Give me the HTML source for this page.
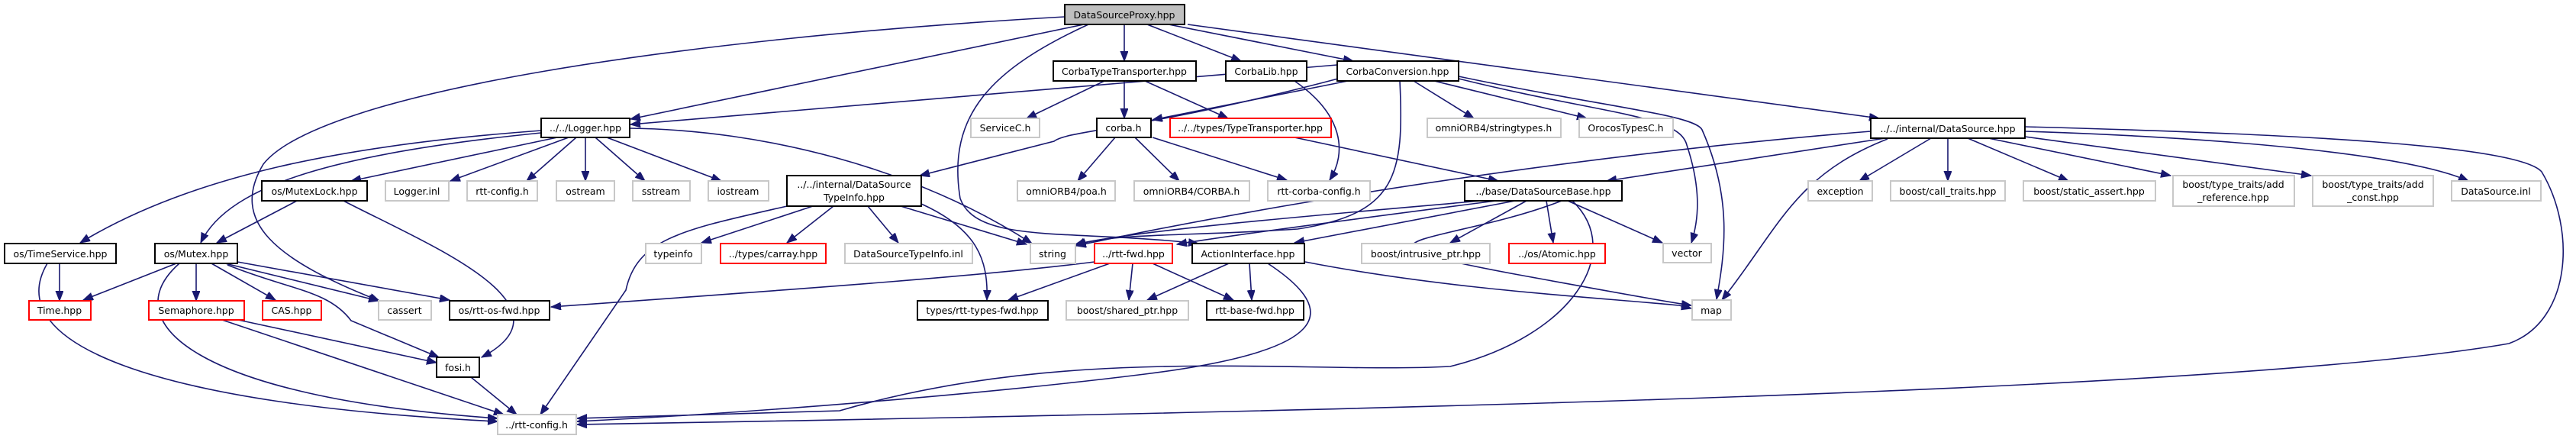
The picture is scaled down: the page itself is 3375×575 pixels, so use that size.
<!DOCTYPE html>
<html><head><meta charset="utf-8"><style>
html,body{margin:0;padding:0;background:#fff;width:3375px;height:575px;overflow:hidden}
svg{display:block}
text{font-family:"DejaVu Sans","Liberation Sans",sans-serif;font-size:12.5px;fill:#000;text-anchor:middle}
.e{fill:none;stroke:#191970;stroke-width:1.6;marker-end:url(#a)}
.b{fill:#fff;stroke:#000;stroke-width:2}
.g{fill:#fff;stroke:#c8c8c8;stroke-width:2}
.r{fill:#fff;stroke:#ff0000;stroke-width:2}
</style></head><body>
<svg width="3375" height="575" viewBox="0 0 3375 575" xmlns="http://www.w3.org/2000/svg">
<defs><marker id="a" markerUnits="userSpaceOnUse" markerWidth="14" markerHeight="12" refX="13" refY="5" orient="auto"><path d="M0,0 L13,5 L0,10 z" fill="#191970" stroke="#191970"/></marker></defs>
<g>
<!-- DataSourceProxy edges -->
<path class="e" d="M1420,32 L826,156"/>
<path class="e" d="M1473,32 L1473,80"/>
<path class="e" d="M1503,32 L1626,80"/>
<path class="e" d="M1531,32 L1773,80"/>
<path class="e" d="M1556,32 L2462,155"/>
<path class="e" d="M1395,22 C900,50 420,120 345,215 C300,290 360,340 497,394"/>
<path class="e" d="M1426,32 C1300,90 1240,150 1258,260 C1280,320 1400,300 1570,319"/>
<!-- Logger -->
<path class="e" d="M709,171 C450,190 250,230 105,318"/>
<path class="e" d="M709,174 C450,200 300,240 263,318"/>
<path class="e" d="M730,180 L460,237"/>
<path class="e" d="M745,180 L590,237"/>
<path class="e" d="M755,180 L690,237"/>
<path class="e" d="M767,180 L767,237"/>
<path class="e" d="M780,180 L845,237"/>
<path class="e" d="M795,180 L945,237"/>
<path class="e" d="M825,168 C1000,170 1200,220 1352,319"/>
<!-- MutexLock -->
<path class="e" d="M389,263 L284,318"/>
<path class="e" d="M450,263 C560,320 760,400 631,468"/>
<!-- TimeService -->
<path class="e" d="M78,345 L78,394"/>
<path class="e" d="M62,345 C0,450 200,530 652,552"/>
<!-- Mutex -->
<path class="e" d="M231,345 L109,393"/>
<path class="e" d="M257,345 L257,394"/>
<path class="e" d="M277,345 L361,393"/>
<path class="e" d="M295,345 L496,394"/>
<path class="e" d="M311,343 L589,393"/>
<path class="e" d="M298,347 C380,380 430,380 460,420 L575,468"/>
<path class="e" d="M235,345 C150,420 250,520 652,548"/>
<!-- Semaphore -->
<path class="e" d="M312,419 L572,475"/>
<path class="e" d="M291,419 L660,543"/>
<path class="e" d="M617,494 L677,543"/>
<!-- DSTI -->
<path class="e" d="M1040,268 C900,300 835,310 820,380 L708,543"/>
<path class="e" d="M1065,270 L919,318"/>
<path class="e" d="M1092,270 L1031,318"/>
<path class="e" d="M1137,270 L1177,318"/>
<path class="e" d="M1180,270 L1345,320"/>
<path class="e" d="M1207,267 C1280,300 1295,340 1293,393"/>
<!-- rtt-fwd, AI -->
<path class="e" d="M1434,343 C1300,360 1100,375 722,402"/>
<path class="e" d="M1454,345 L1321,393"/>
<path class="e" d="M1484,345 L1479,393"/>
<path class="e" d="M1510,345 L1616,393"/>
<path class="e" d="M1610,345 L1503,393"/>
<path class="e" d="M1637,345 L1640,393"/>
<path class="e" d="M1661,345 C1760,410 1740,460 1500,490 C1300,515 1000,540 756,552"/>
<path class="e" d="M1710,343 C1900,380 2100,390 2200,400 L2216,404"/>
<!-- DSB -->
<path class="e" d="M1940,263 C1750,280 1500,300 1409,320"/>
<path class="e" d="M1960,263 C1750,290 1600,310 1542,320"/>
<path class="e" d="M1985,263 L1696,318"/>
<path class="e" d="M2000,263 L1900,318"/>
<path class="e" d="M2026,263 L2035,318"/>
<path class="e" d="M2054,263 L2178,318"/>
<path class="e" d="M2046,263 C1900,320 1720,310 1990,360 C2100,380 2180,395 2216,400"/>
<path class="e" d="M2060,263 C2130,330 2060,440 1900,480 C1700,490 1400,450 1100,538 L756,548"/>
<!-- CorbaConversion -->
<path class="e" d="M1752,85 L826,163"/>
<path class="e" d="M1757,102 C1500,170 1400,170 1381,185 L1205,230"/>
<path class="e" d="M1766,106 L1510,157"/>
<path class="e" d="M1852,106 L1931,155"/>
<path class="e" d="M1879,106 L2079,155"/>
<path class="e" d="M1834,106 C1840,230 1830,280 1700,300 C1550,310 1450,305 1409,322"/>
<path class="e" d="M1911,103 C2100,150 2200,150 2210,190 C2230,250 2225,290 2216,318"/>
<path class="e" d="M1911,100 C2100,140 2220,150 2230,170 C2270,260 2260,330 2249,392"/>
<!-- CTT, CorbaLib, corba, TT -->
<path class="e" d="M1447,106 L1345,155"/>
<path class="e" d="M1473,106 L1473,155"/>
<path class="e" d="M1500,106 L1609,155"/>
<path class="e" d="M1696,106 C1760,150 1765,200 1742,236"/>
<path class="e" d="M1461,180 L1412,237"/>
<path class="e" d="M1487,180 L1545,237"/>
<path class="e" d="M1510,180 L1686,236"/>
<path class="e" d="M1696,180 L1963,237"/>
<!-- DataSource.hpp -->
<path class="e" d="M2470,181 L2105,237"/>
<path class="e" d="M2451,172 C2100,200 1700,260 1410,322"/>
<path class="e" d="M2473,182 C2350,230 2330,300 2256,393"/>
<path class="e" d="M2530,181 L2436,237"/>
<path class="e" d="M2552,181 L2552,237"/>
<path class="e" d="M2578,181 L2710,237"/>
<path class="e" d="M2605,181 L2844,230"/>
<path class="e" d="M2653,179 L3028,230"/>
<path class="e" d="M2653,172 C2900,180 3150,200 3234,237"/>
<path class="e" d="M2653,166 C3000,175 3300,190 3330,225 C3375,300 3370,420 3287,450 C3000,500 2200,532 756,556"/>
</g>
<g>
<rect x="1395" y="6" width="157" height="26" fill="#bfbfbf" stroke="#000" stroke-width="2"/><text x="1473" y="24">DataSourceProxy.hpp</text>
<rect class="b" x="709" y="155" width="116" height="25"/><text x="767" y="172">../../Logger.hpp</text>
<rect class="b" x="1380" y="80" width="187" height="26"/><text x="1473" y="98">CorbaTypeTransporter.hpp</text>
<rect class="b" x="1606" y="80" width="106" height="26"/><text x="1659" y="98">CorbaLib.hpp</text>
<rect class="b" x="1752" y="80" width="159" height="26"/><text x="1831" y="98">CorbaConversion.hpp</text>
<rect class="b" x="2451" y="155" width="202" height="26"/><text x="2552" y="173">../../internal/DataSource.hpp</text>
<rect class="b" x="343" y="237" width="138" height="26"/><text x="412" y="255">os/MutexLock.hpp</text>
<rect class="g" x="505" y="237" width="83" height="26"/><text x="546" y="255">Logger.inl</text>
<rect class="g" x="612" y="237" width="92" height="26"/><text x="658" y="255">rtt-config.h</text>
<rect class="g" x="729" y="237" width="76" height="26"/><text x="767" y="255">ostream</text>
<rect class="g" x="829" y="237" width="75" height="26"/><text x="866" y="255">sstream</text>
<rect class="g" x="928" y="237" width="79" height="26"/><text x="967" y="255">iostream</text>
<rect class="b" x="1031" y="230" width="176" height="40"/><text x="1119" y="246">../../internal/DataSource</text><text x="1119" y="263">TypeInfo.hpp</text>
<rect class="g" x="1272" y="155" width="90" height="25"/><text x="1317" y="172">ServiceC.h</text>
<rect class="b" x="1437" y="155" width="71" height="25"/><text x="1472" y="172">corba.h</text>
<rect class="r" x="1533" y="155" width="211" height="25"/><text x="1638" y="172">../../types/TypeTransporter.hpp</text>
<rect class="g" x="1870" y="155" width="175" height="25"/><text x="1957" y="172">omniORB4/stringtypes.h</text>
<rect class="g" x="2069" y="155" width="123" height="25"/><text x="2130" y="172">OrocosTypesC.h</text>
<rect class="g" x="1333" y="237" width="128" height="26"/><text x="1397" y="255">omniORB4/poa.h</text>
<rect class="g" x="1486" y="237" width="151" height="26"/><text x="1561" y="255">omniORB4/CORBA.h</text>
<rect class="g" x="1661" y="237" width="134" height="26"/><text x="1728" y="255">rtt-corba-config.h</text>
<rect class="b" x="1919" y="237" width="206" height="26"/><text x="2022" y="255">../base/DataSourceBase.hpp</text>
<rect class="g" x="2369" y="237" width="84" height="26"/><text x="2411" y="255">exception</text>
<rect class="g" x="2477" y="237" width="150" height="26"/><text x="2552" y="255">boost/call_traits.hpp</text>
<rect class="g" x="2651" y="237" width="173" height="26"/><text x="2737" y="255">boost/static_assert.hpp</text>
<rect class="g" x="2847" y="230" width="159" height="40"/><text x="2926" y="246">boost/type_traits/add</text><text x="2926" y="263">_reference.hpp</text>
<rect class="g" x="3030" y="230" width="158" height="40"/><text x="3109" y="246">boost/type_traits/add</text><text x="3109" y="263">_const.hpp</text>
<rect class="g" x="3212" y="237" width="117" height="26"/><text x="3270" y="255">DataSource.inl</text>
<rect class="g" x="2179" y="319" width="63" height="25"/><text x="2210" y="336">vector</text>
<rect class="g" x="2217" y="393" width="51" height="26"/><text x="2242" y="411">map</text>
<rect class="b" x="6" y="319" width="146" height="26"/><text x="79" y="337">os/TimeService.hpp</text>
<rect class="b" x="203" y="319" width="108" height="26"/><text x="257" y="337">os/Mutex.hpp</text>
<rect class="r" x="38" y="394" width="81" height="25"/><text x="78" y="411">Time.hpp</text>
<rect class="r" x="195" y="394" width="125" height="25"/><text x="257" y="411">Semaphore.hpp</text>
<rect class="r" x="344" y="394" width="77" height="25"/><text x="382" y="411">CAS.hpp</text>
<rect class="g" x="496" y="394" width="69" height="25"/><text x="530" y="411">cassert</text>
<rect class="b" x="589" y="394" width="131" height="25"/><text x="654" y="411">os/rtt-os-fwd.hpp</text>
<rect class="b" x="572" y="468" width="56" height="26"/><text x="600" y="486">fosi.h</text>
<rect class="g" x="652" y="543" width="103" height="26"/><text x="703" y="561">../rtt-config.h</text>
<rect class="g" x="846" y="319" width="73" height="26"/><text x="882" y="337">typeinfo</text>
<rect class="r" x="944" y="319" width="138" height="26"/><text x="1013" y="337">../types/carray.hpp</text>
<rect class="g" x="1107" y="319" width="167" height="26"/><text x="1190" y="337">DataSourceTypeInfo.inl</text>
<rect class="g" x="1350" y="319" width="59" height="26"/><text x="1379" y="337">string</text>
<rect class="r" x="1434" y="319" width="102" height="26"/><text x="1485" y="337">../rtt-fwd.hpp</text>
<rect class="b" x="1562" y="319" width="147" height="26"/><text x="1635" y="337">ActionInterface.hpp</text>
<rect class="g" x="1784" y="319" width="168" height="26"/><text x="1868" y="337">boost/intrusive_ptr.hpp</text>
<rect class="r" x="1977" y="319" width="126" height="26"/><text x="2040" y="337">../os/Atomic.hpp</text>
<rect class="b" x="1202" y="394" width="171" height="25"/><text x="1287" y="411">types/rtt-types-fwd.hpp</text>
<rect class="g" x="1397" y="394" width="160" height="25"/><text x="1477" y="411">boost/shared_ptr.hpp</text>
<rect class="b" x="1581" y="394" width="127" height="25"/><text x="1644" y="411">rtt-base-fwd.hpp</text>
</g>
</svg>
</body></html>
